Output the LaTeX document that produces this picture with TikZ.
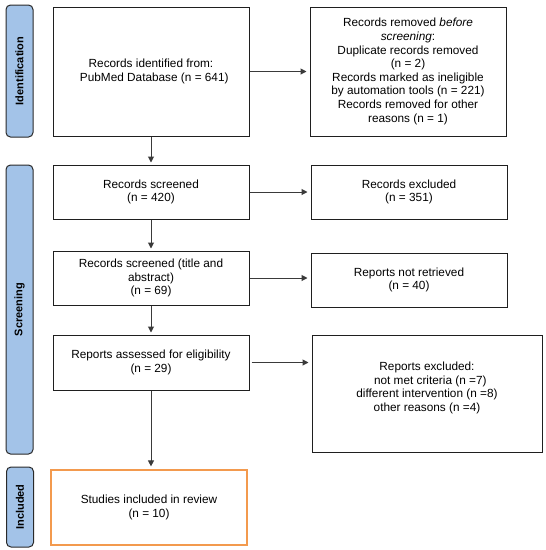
\documentclass[tikz,border=0pt]{standalone}
\usepackage{fontspec}
\setmainfont{Liberation Sans}
\usetikzlibrary{arrows.meta}
\definecolor{barblue}{HTML}{A3C3E8}
\definecolor{barline}{HTML}{2A2A2A}
\definecolor{boxorange}{HTML}{F39A4E}
\definecolor{linegrey}{HTML}{3A3A3A}
\tikzset{
  box/.style={draw=black!88, line width=1pt, fill=white, align=center, inner sep=0pt,
    font=\fontsize{11.8}{13.6}\selectfont},
  incbox/.style={box, draw=boxorange, line width=1.2pt},
  phasebar/.style={draw=barline, fill=barblue, line width=1pt, rounded corners=4.5pt,
    minimum width=27pt, inner sep=0pt},
  phaselabel/.style={rotate=90, font=\fontsize{11}{13}\selectfont\bfseries},
  flow/.style={draw=linegrey, line width=1pt, -{Triangle[length=6pt,width=6pt]}},
}
\begin{document}
\begin{tikzpicture}[x=1pt,y=-1pt]
\useasboundingbox (0,0) rectangle (546,550);
% phase bars
\node[phasebar, minimum height=132pt] (pid) at (19.5,71) {};
\node[phaselabel] (lid) at (pid.center) {Identification};
\node[phasebar, minimum height=289pt] (psc) at (19.5,309.5) {};
\node[phaselabel] (lsc) at (psc.center) {Screening};
\node[phasebar, minimum height=80pt] (pin) at (20,507) {};
\node[phaselabel] (lin) at (pin.center) {Included};
% left column
\node[box, minimum width=196pt, minimum height=129pt] (b1) at (151,71.5)
  {Records identified from:\\ \ \ PubMed Database (n = 641)};
\node[box, minimum width=196pt, minimum height=54pt] (b2) at (151,192)
  {Records screened\\(n = 420)};
\node[box, minimum width=196pt, minimum height=54pt] (b3) at (151,278)
  {Records screened (title and\\abstract)\\(n = 69)};
\node[box, minimum width=196pt, minimum height=55pt] (b4) at (151,362.5)
  {Reports assessed for eligibility\\(n = 29)};
\node[incbox, minimum width=196pt, minimum height=75pt] (b5) at (149,507.5)
  {Studies included in review\\(n = 10)};
% right column
\node[box, minimum width=196pt, minimum height=129pt] (r1) at (408,71.5)
  {Records removed \textit{before}\\\textit{screening}:\\
   Duplicate records removed\\(n = 2)\\
   Records marked as ineligible\\by automation tools (n = 221)\\
   Records removed for other\\reasons (n = 1)};
\node[box, minimum width=196pt, minimum height=54pt] (r2) at (409,192)
  {Records excluded\\(n = 351)};
\node[box, minimum width=196pt, minimum height=54pt] (r3) at (409,280)
  {Reports not retrieved\\(n = 40)};
\node[box, minimum width=230pt, minimum height=117pt, text depth=0pt] (r4) at (427,393.5) {};
\node[font=\fontsize{11.8}{13.6}\selectfont, align=center, inner sep=0pt] (t4) at (427,388)
  {Reports excluded:\\\ \ not met criteria (n =7)\\different intervention (n =8)\\other reasons (n =4)};
% connectors
\draw[flow, shorten >=2pt] (b1.south) -- (b2.north);
\draw[flow, shorten >=2pt] (b2.south) -- (b3.north);
\draw[flow, shorten >=2pt] (b3.south) -- (b4.north);
\draw[flow, shorten >=3pt] (b4.south) -- (b5.north -| b4.south);
\draw[flow, shorten >=3pt] (b1.east) -- (r1.west);
\draw[flow, shorten >=3pt] (b2.east) -- (r2.west |- b2.east);
\draw[flow, shorten >=3pt] (b3.east) -- (r3.west |- b3.east);
\draw[flow, shorten <=2pt, shorten >=3pt] (b4.east) -- (r4.west |- b4.east);
\end{tikzpicture}
\end{document}
